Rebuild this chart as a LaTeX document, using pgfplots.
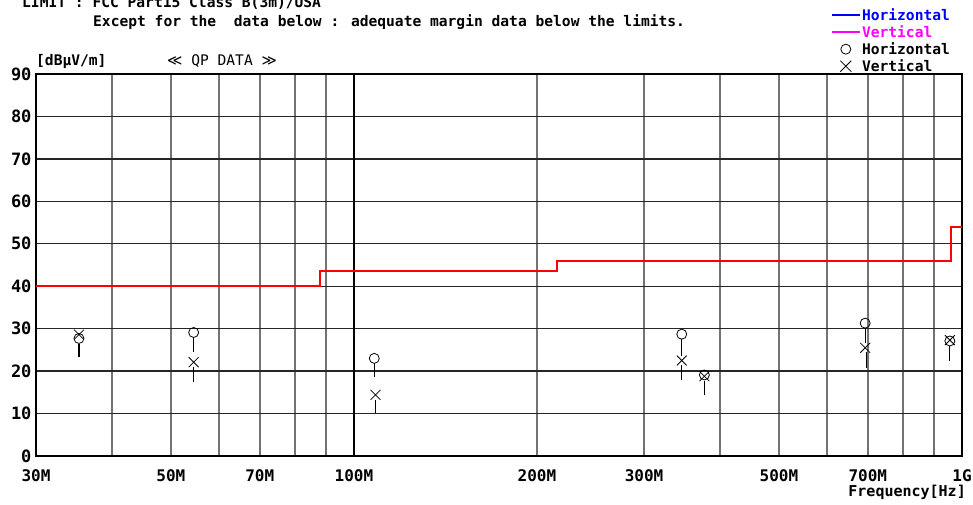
\documentclass[border=0pt]{standalone}
\usepackage{fontspec}
\setmainfont{DejaVu Sans Mono}
\newfontfamily\djs{DejaVu Sans}
\usepackage{pgfplots}
\pgfplotsset{compat=1.18}
\definecolor{legblue}{HTML}{0000FF}
\definecolor{legmag}{HTML}{FF00FF}
\definecolor{limred}{HTML}{FF0000}
\pgfplotsset{
  bluelegend/.style={legend image code/.code={\draw[legblue, line width=1.4pt] (0pt,0pt) -- (28pt,0pt);}},
  maglegend/.style={legend image code/.code={\draw[legmag, line width=1.4pt] (0pt,0pt) -- (28pt,0pt);}},
  circlegend/.style={legend image code/.code={\draw[black, line width=0.8pt] (14pt,0pt) circle (5pt);}},
  crosslegend/.style={legend image code/.code={\draw[black, line width=0.8pt] (8.5pt,-5.5pt) -- (19.5pt,5.5pt) (8.5pt,5.5pt) -- (19.5pt,-5.5pt);}},
}
\begin{document}
\begin{tikzpicture}
\useasboundingbox (-36pt,-48pt) rectangle (937pt,456pt);
\begin{axis}[
  scale only axis, width=926pt, height=382pt,
  xmode=log, xmin=30, xmax=1000, ymin=0, ymax=90,
  axis line style={black, line width=1.2pt},
  xtick={30,50,70,100,200,300,500,700,1000},
  xticklabels={30M,50M,70M,100M,200M,300M,500M,700M,1G},
  minor xtick={40,60,80,90,400,600,800,900},
  ytick={0,10,...,90},
  yticklabels={0,10,20,30,40,50,60,70,80,90},
  xmajorgrids, xminorgrids, ymajorgrids,
  x grid style={black!55, line width=1.6pt},
  y grid style={black!85, line width=1.3pt},
  minor grid style={black!55, line width=1.6pt},
  major tick length=0pt, minor tick length=0pt,
  extra x ticks={100}, extra x tick labels={},
  extra x tick style={xmajorgrids=true, x grid style={black, line width=2.2pt}, major grid style={black, line width=2.2pt}},
  xticklabel style={font=\fontsize{16}{18}\selectfont\bfseries, yshift=-10pt},
  yticklabel style={font=\fontsize{17}{18}\selectfont\bfseries, xshift=-1pt},
  legend style={at={(axis description cs:0.992,1.182)}, anchor=north east, draw=none, fill=none,
    font=\fontsize{14.6}{16}\selectfont\bfseries, cells={anchor=west}, row sep=0pt,
    nodes={inner sep=1.5pt, text height=12pt, text depth=2pt}},
  clip=false,
]
\addlegendimage{bluelegend}
\addlegendimage{maglegend}
% Horizontal QP
\addplot[only marks, mark=o, mark size=5pt, mark options={black, line width=0.8pt}, circlegend]
  coordinates {(35.3,27.7) (54.5,29.1) (108,23.0) (346,28.7) (377,19.1) (693,31.3) (955,27.1)};
% Vertical QP
\addplot[only marks, mark=x, mark size=7pt, mark options={black, line width=0.8pt}, crosslegend]
  coordinates {(35.3,28.6) (54.5,22.1) (108.5,14.4) (346,22.5) (377,18.8) (693,25.5) (955,27.3)};
% stems
\addplot[black, line width=1.2pt, unbounded coords=jump, forget plot] coordinates {
  (35.3,26.5) (35.3,23.3) (35.3,nan)
  (54.5,28.0) (54.5,24.6) (54.5,nan)
  (54.5,21.0) (54.5,17.5) (54.5,nan)
  (108,21.9) (108,18.5) (108,nan)
  (108.5,13.3) (108.5,10.1) (108.5,nan)
  (346,27.6) (346,23.6) (346,nan)
  (346,21.4) (346,17.9) (346,nan)
  (377,17.7) (377,14.4) (377,nan)
  (693,30.2) (693,26.6) (693,nan)
  (697,24.4) (697,20.8) (697,nan)
  (955,26.0) (955,22.5)
};
% limit line
\addplot[draw=limred, line width=1.8pt, forget plot] coordinates {
  (30,40) (88,40) (88,43.6) (216,43.6) (216,46) (960,46) (960,54) (1000,54)};
\legend{{\color{legblue}Horizontal},{\color{legmag}Vertical},Horizontal,Vertical}
\end{axis}
\node[anchor=base west, inner sep=0pt, font=\fontsize{14.6}{16}\selectfont\bfseries] at (-14pt,448pt) {LIMIT : FCC Part15 Class B(3m)/USA};
\node[anchor=base west, inner sep=0pt, font=\fontsize{14.6}{16}\selectfont\bfseries] at (57pt,429pt) {Except for the~~data below : adequate margin data below the limits.};
\node[anchor=base west, inner sep=0pt, font=\fontsize{14.6}{16}\selectfont\bfseries] at (0pt,390pt) {[dBμV/m]};
\node[anchor=base west, inner sep=0pt, font=\fontsize{14.6}{16}\selectfont] at (131pt,390pt) {{\djs ≪} QP DATA {\djs ≫}};
\node[anchor=base east, inner sep=0pt, font=\fontsize{15}{16}\selectfont\bfseries] at (930pt,-40pt) {Frequency[Hz]};
\end{tikzpicture}
\end{document}
